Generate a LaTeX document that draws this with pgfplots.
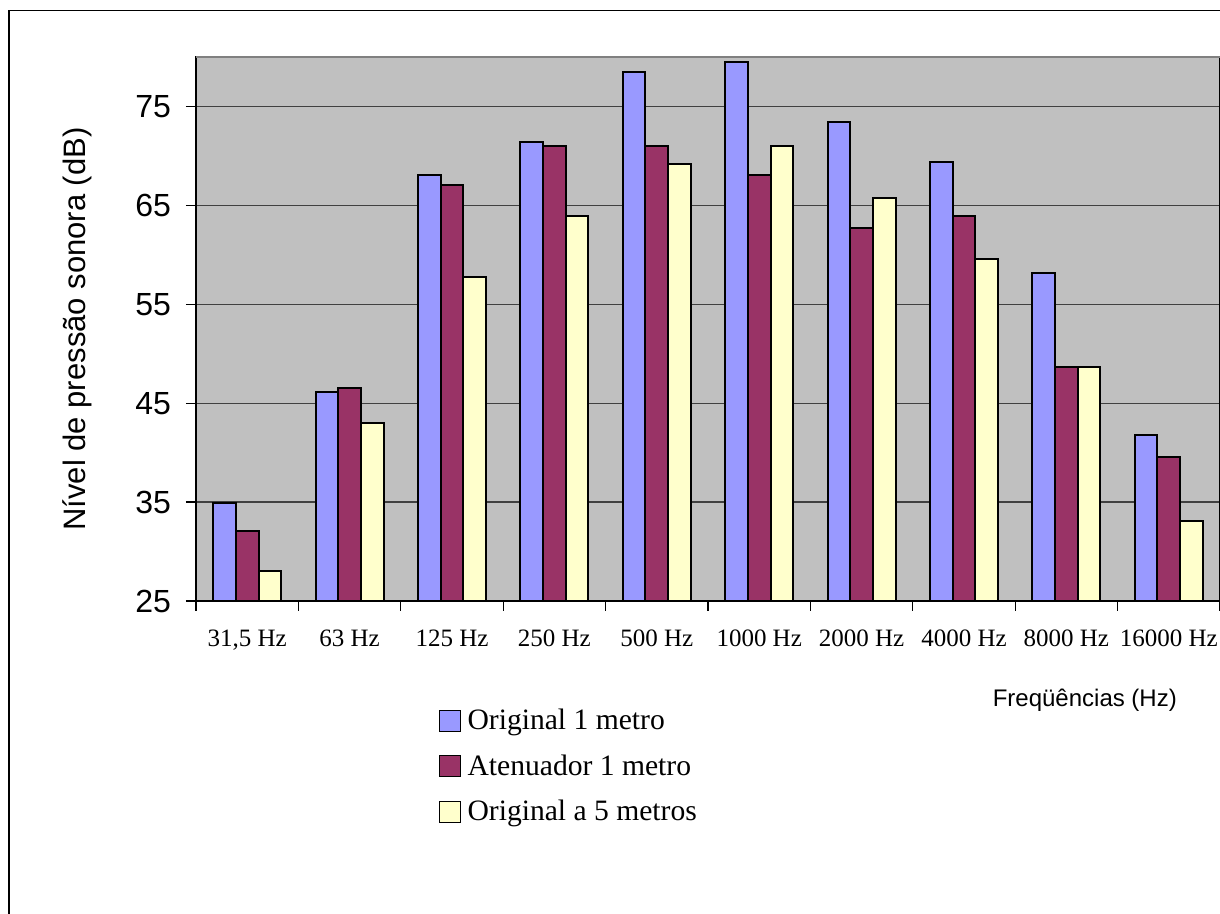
\documentclass[border=0pt]{standalone}
\usepackage{fontspec}
\setmainfont{Liberation Serif}
\newfontfamily\arial{Liberation Sans}
\usepackage{pgfplots}
\pgfplotsset{compat=1.18}
\definecolor{cblue}{HTML}{9999FF}
\definecolor{cred}{HTML}{993366}
\definecolor{cyel}{HTML}{FFFFCC}
\definecolor{bggray}{HTML}{C0C0C0}
\definecolor{gridc}{HTML}{404040}
\begin{document}
\begin{tikzpicture}
\useasboundingbox (0,0) rectangle (610pt,457pt);
\draw[black,line width=0.7pt] (4.5pt,-10pt) -- (4.5pt,451.75pt) -- (620pt,451.75pt);
\begin{axis}[
  at={(98pt,428.5pt)}, anchor=north west,
  scale only axis, width=512pt, height=272pt,
  ybar=0pt, bar width=0.2215,
  xmin=-0.5, xmax=9.5, ymin=25, ymax=80,
  xtick={0,...,9},
  xticklabels={{31,5 Hz},{63 Hz},{125 Hz},{250 Hz},{500 Hz},{1000 Hz},{2000 Hz},{4000 Hz},{8000 Hz},{16000 Hz}},
  minor xtick={-0.5,0.5,...,9.5},
  ytick={25,35,45,55,65,75},
  tick align=outside, xtick pos=bottom, ytick pos=left,
  major tick length=5pt, minor tick length=5pt,
  major x tick style={draw=none},
  minor x tick style={draw=black, line width=0.6pt},
  y tick style={black, line width=0.6pt},
  ymajorgrids, grid style={gridc, line width=0.6pt},
  axis background/.style={fill=bggray},
  axis line style={black, line width=0.9pt},
  /pgf/number format/assume math mode=true,
  yticklabel style={font=\arial\fontsize{16}{18}\selectfont, xshift=-4pt},
  xticklabel style={font=\fontsize{12.5}{14}\selectfont, yshift=-6pt},
  ylabel={Nível de pressão sonora (dB)},
  every axis y label/.style={at={(axis description cs:-0.116,0.5)}, rotate=90, anchor=center, font=\arial\fontsize{15.5}{18}\selectfont},
  xlabel={Freqüências (Hz)},
  every axis x label/.style={at={(axis description cs:0.868,-0.182)}, anchor=center, font=\arial\fontsize{12}{14}\selectfont},
  legend style={draw=none, fill=none, at={(axis description cs:0.231,-0.183)}, anchor=north west,
    font=\fontsize{14.8}{16}\selectfont, row sep=7pt, cells={anchor=west}},
  legend image code/.code={\draw[#1, line width=0.6pt] (0pt,-5.25pt) rectangle (10.5pt,5.25pt); \path[draw=none, fill=none] (0pt,0pt) -- (12pt,0pt);},
  every axis plot/.append style={draw=black, line width=1pt},
]
\addplot[fill=cblue] coordinates {(0,34.9) (1,46.1) (2,68.1) (3,71.4) (4,78.5) (5,79.5) (6,73.4) (7,69.4) (8,58.2) (9,41.8)};
\addplot[fill=cred] coordinates {(0,32.1) (1,46.5) (2,67.1) (3,71.0) (4,71.0) (5,68.1) (6,62.7) (7,63.9) (8,48.7) (9,39.6)};
\addplot[fill=cyel] coordinates {(0,28.0) (1,43.0) (2,57.8) (3,63.9) (4,69.2) (5,71.0) (6,65.7) (7,59.6) (8,48.7) (9,33.1)};
\legend{Original 1 metro, Atenuador 1 metro, Original a 5 metros}
\draw[gray, line width=1pt] (rel axis cs:0,1) -- (rel axis cs:1,1);
\end{axis}
\end{tikzpicture}
\end{document}
